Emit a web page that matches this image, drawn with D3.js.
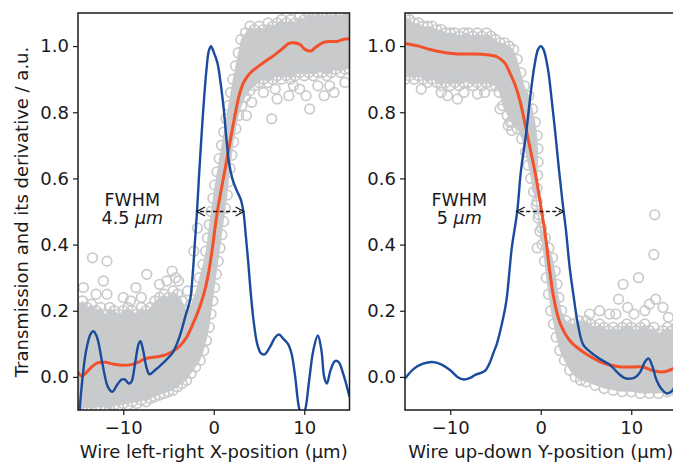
<!DOCTYPE html>
<html><head><meta charset="utf-8">
<script src="https://cdn.jsdelivr.net/npm/d3@7"></script>
<style>
body{margin:0;background:#fff}
svg{display:block}
text{font-family:"DejaVu Sans",sans-serif;fill:#1a1a1a}
</style>
</head><body>
<svg id="chart" width="673" height="462"></svg>
<script>
// ---------- data ----------
const xTicks = [-10, 0, 10];
const yTicks = [0.0, 0.2, 0.4, 0.6, 0.8, 1.0];
const xDomain = [-15, 15];
const yDomain = [-0.1, 1.1];
const xTitles = ["Wire left-right X-position (μm)", "Wire up-down Y-position (μm)"];
const yTitle = "Transmission and its derivative / a.u.";
const fwhmNumbers = ["4.5", "5"];
const fwhmArrowsX = [[-1.85, 3.3], [-2.65, 2.5]];
const fwhmArrowY = 0.5;
const fwhmTextX = [-9.0, -9.0];
const fwhmTextY = [0.517, 0.461];

// left panel: dense scatter band (outer circle centres) and outliers
const leftBandUpper = [[-15,0.21],[-14.5,0.23],[-14,0.21],[-13.5,0.22],[-13,0.2],[-12.5,0.21],[-12,0.19],[-11.5,0.21],[-11,0.2],[-10.5,0.19],[-10,0.2],[-9.5,0.21],[-9,0.2],[-8.5,0.19],[-8,0.21],[-7.5,0.2],[-7,0.21],[-6.5,0.23],[-6,0.24],[-5.5,0.25],[-5,0.24],[-4.5,0.26],[-4,0.25],[-3.5,0.23],[-3,0.2],[-2.5,0.22],[-2,0.26],[-1.6,0.3],[-1.2,0.34],[-0.9,0.38],[-0.7,0.42],[-0.5,0.46],[-0.3,0.5],[-0.1,0.54],[0.1,0.58],[0.35,0.62],[0.6,0.66],[0.85,0.7],[1.1,0.74],[1.35,0.78],[1.6,0.82],[1.85,0.86],[2.1,0.9],[2.4,0.94],[2.7,0.98],[3.0,1.02],[3.5,1.04],[4,1.06],[4.5,1.05],[5,1.06],[5.5,1.05],[6,1.07],[6.5,1.06],[7,1.07],[7.5,1.08],[8,1.07],[8.5,1.08],[9,1.07],[9.5,1.09],[10,1.08],[10.5,1.1],[11,1.09],[11.5,1.1],[12,1.09],[12.5,1.1],[13,1.09],[13.5,1.1],[14,1.09],[14.5,1.1],[15,1.1]];
const leftBandLower = [[-15,-0.095],[-14.5,-0.1],[-14,-0.09],[-13.5,-0.1],[-13,-0.09],[-12.5,-0.095],[-12,-0.09],[-11.5,-0.1],[-11,-0.085],[-10.5,-0.09],[-10,-0.08],[-9.5,-0.085],[-9,-0.075],[-8.5,-0.08],[-8,-0.07],[-7.5,-0.075],[-7,-0.065],[-6.5,-0.06],[-6,-0.055],[-5.5,-0.05],[-5,-0.045],[-4.5,-0.04],[-4,-0.03],[-3.5,-0.02],[-3,-0.01],[-2.5,0.01],[-2,0.03],[-1.5,0.05],[-1.1,0.08],[-0.8,0.11],[-0.5,0.15],[-0.3,0.19],[-0.1,0.23],[0.1,0.27],[0.3,0.31],[0.5,0.35],[0.7,0.39],[0.9,0.43],[1.1,0.47],[1.3,0.51],[1.5,0.55],[1.65,0.59],[1.8,0.63],[2.0,0.67],[2.2,0.71],[2.45,0.75],[2.75,0.79],[3.1,0.82],[3.5,0.845],[4.0,0.865],[4.5,0.88],[5,0.89],[5.5,0.9],[6,0.89],[6.5,0.9],[7,0.91],[7.5,0.9],[8,0.91],[8.5,0.9],[9,0.91],[9.5,0.92],[10,0.91],[10.5,0.92],[11,0.91],[11.5,0.92],[12,0.92],[12.5,0.91],[13,0.92],[13.5,0.93],[14,0.92],[14.5,0.93],[15,0.93]];
const leftOutliers = [[-13.4,0.36],[-11.8,0.35],[-12.2,0.29],[-14.4,0.27],[-11.8,0.25],[-13,0.25],[-10,0.24],[-9.2,0.23],[-8.6,0.27],[-8,0.24],[-7.4,0.31],[-6,0.28],[-5.2,0.29],[-4.6,0.32],[-4.2,0.3],[-3.9,0.29],[-2.9,0.26],[-1.8,0.45],[-2.2,0.38],[6.4,0.78],[8.3,0.85],[10.6,0.81],[13.3,0.86],[7,0.84],[4.2,0.83],[5.5,0.86],[9.5,0.87],[11.5,0.88],[12.2,0.85],[14.5,0.89],[10.2,0.85],[6.8,0.87],[3.6,0.79],[8.8,0.88],[12.8,0.88]];

// left panel: smoothed transmission (red) and its derivative (blue)
const leftSmooth = [[-15,0.015],[-14.6,0.003],[-14.2,0.01],[-13.5,0.03],[-12.8,0.043],[-12,0.044],[-11,0.038],[-10,0.035],[-9,0.038],[-8.3,0.045],[-7.5,0.056],[-6.5,0.06],[-5.5,0.065],[-4.6,0.076],[-3.8,0.092],[-3.0,0.12],[-2.3,0.16],[-1.7,0.2],[-1.1,0.25],[-0.6,0.31],[-0.2,0.38],[0.4,0.5],[1.3,0.635],[2.2,0.77],[2.8,0.85],[3.3,0.89],[4.0,0.918],[5.0,0.94],[5.9,0.958],[6.8,0.975],[7.7,0.995],[8.3,1.008],[8.8,1.01],[9.5,1.005],[10.1,0.99],[10.7,0.985],[11.3,0.997],[12.0,1.01],[12.8,1.014],[13.6,1.014],[14.3,1.02],[15,1.022]];
const leftDeriv = [[-15.0,-0.17],[-14.6,-0.03],[-14.1,0.08],[-13.6,0.13],[-13.3,0.138],[-12.9,0.12],[-12.3,0.04],[-11.7,-0.03],[-11.2,-0.045],[-10.7,-0.025],[-10.2,-0.008],[-9.8,-0.008],[-9.4,-0.02],[-9.1,-0.015],[-8.7,0.04],[-8.3,0.1],[-8.1,0.108],[-7.8,0.08],[-7.4,0.025],[-7.1,0.008],[-6.5,0.02],[-5.5,0.045],[-4.5,0.075],[-3.8,0.12],[-3.1,0.187],[-2.6,0.235],[-2.3,0.32],[-2.05,0.42],[-1.85,0.5],[-1.6,0.62],[-1.35,0.73],[-1.1,0.83],[-0.8,0.93],[-0.55,0.985],[-0.3,1.0],[-0.05,0.985],[0.4,0.95],[0.75,0.89],[1.1,0.81],[1.4,0.72],[1.7,0.645],[2.1,0.595],[2.6,0.56],[3.0,0.535],[3.3,0.495],[3.5,0.44],[3.8,0.35],[4.1,0.25],[4.4,0.17],[4.8,0.1],[5.2,0.072],[5.6,0.068],[6.2,0.09],[6.8,0.12],[7.2,0.128],[7.7,0.115],[8.2,0.1],[8.6,0.07],[9.0,0.0],[9.4,-0.09],[9.75,-0.12],[10.1,-0.1],[10.5,-0.02],[11.0,0.08],[11.5,0.125],[11.9,0.08],[12.2,0.0],[12.5,-0.02],[12.9,0.02],[13.4,0.048],[13.8,0.045],[14.3,0.01],[15,-0.06]];

// right panel
const rightBandUpper = [[-15,1.09],[-14.5,1.08],[-14,1.07],[-13.5,1.07],[-13,1.06],[-12.5,1.06],[-12,1.06],[-11.5,1.05],[-11,1.05],[-10.5,1.04],[-10,1.04],[-9.5,1.04],[-9,1.03],[-8.5,1.04],[-8,1.04],[-7.5,1.03],[-7,1.04],[-6.5,1.03],[-6,1.04],[-5.5,1.03],[-5,1.02],[-4.5,1.01],[-4,1.01],[-3.5,1.0],[-3,0.99],[-2.6,0.96],[-2.2,0.92],[-1.8,0.88],[-1.3,0.85],[-0.9,0.81],[-0.6,0.77],[-0.4,0.73],[-0.3,0.69],[-0.3,0.65],[-0.35,0.61],[-0.4,0.57],[-0.4,0.53],[-0.2,0.49],[0.1,0.45],[0.5,0.42],[0.9,0.39],[1.3,0.36],[1.6,0.32],[1.8,0.28],[2.0,0.24],[2.3,0.2],[2.8,0.17],[3.5,0.16],[4.2,0.17],[5,0.17],[5.5,0.16],[6,0.15],[6.5,0.16],[7,0.15],[7.5,0.14],[8,0.15],[8.5,0.14],[9,0.15],[9.5,0.16],[10,0.15],[10.5,0.14],[11,0.15],[11.5,0.16],[12,0.14],[12.5,0.15],[13,0.13],[13.5,0.14],[14,0.15],[14.5,0.14],[15,0.15]];
const rightBandLower = [[-15,0.9],[-14.5,0.91],[-14,0.9],[-13.5,0.91],[-13,0.9],[-12.5,0.89],[-12,0.9],[-11.5,0.89],[-11,0.88],[-10.5,0.89],[-10,0.88],[-9.5,0.89],[-9,0.88],[-8.5,0.89],[-8,0.89],[-7.5,0.88],[-7,0.89],[-6.5,0.88],[-6,0.89],[-5.5,0.88],[-5,0.88],[-4.6,0.86],[-4.2,0.82],[-3.7,0.79],[-3.2,0.77],[-2.6,0.75],[-2.1,0.72],[-1.7,0.68],[-1.4,0.64],[-1.1,0.6],[-0.8,0.56],[-0.5,0.52],[-0.3,0.48],[-0.1,0.44],[0.15,0.4],[0.4,0.35],[0.6,0.3],[0.85,0.25],[1.1,0.2],[1.4,0.16],[1.7,0.12],[2.1,0.08],[2.6,0.05],[3.2,0.02],[3.8,0.0],[4.4,-0.01],[5,-0.015],[6,-0.025],[7,-0.035],[8,-0.04],[9,-0.045],[10,-0.045],[11,-0.05],[12,-0.05],[13,-0.05],[14,-0.045],[15,-0.045]];
const rightOutliers = [[12.6,0.49],[12.5,0.37],[10.8,0.3],[9.1,0.28],[8.6,0.235],[9.6,0.21],[7.6,0.19],[12.7,0.235],[14.1,0.18],[5.4,0.19],[6.5,0.2],[11.5,0.2],[13.5,0.21],[10.3,0.19],[8.3,0.19],[12,0.22],[-10.3,0.85],[-9.2,0.84],[-8.5,0.86],[-11,0.86],[-7,0.855],[-6.2,0.86],[-13.2,0.87],[-3.4,0.77],[-3.2,0.745],[-3.6,0.76],[-0.4,0.39],[-4.5,0.81]];
const rightSmooth = [[-15,1.008],[-13.5,1.0],[-12,0.988],[-10.5,0.98],[-9.2,0.976],[-7.5,0.976],[-6,0.974],[-4.8,0.967],[-4.0,0.95],[-3.4,0.918],[-2.8,0.88],[-2.3,0.835],[-1.4,0.72],[-0.5,0.6],[0.1,0.5],[0.55,0.42],[0.9,0.34],[1.4,0.245],[2.1,0.165],[3.2,0.11],[4.2,0.085],[5.1,0.068],[6.9,0.042],[8.7,0.031],[10.2,0.03],[11.3,0.03],[12.3,0.02],[13.2,0.015],[14.0,0.018],[15,0.03]];
const rightDeriv = [[-15,-0.005],[-14,0.025],[-13,0.04],[-12,0.045],[-11,0.038],[-10,0.02],[-9.2,0.0],[-8.5,-0.008],[-7.8,-0.003],[-7.2,0.007],[-6.6,0.012],[-6.1,0.02],[-5.6,0.045],[-5.2,0.075],[-4.85,0.1],[-4.3,0.16],[-3.8,0.23],[-3.2,0.39],[-2.6,0.5],[-2.2,0.62],[-1.6,0.74],[-1.1,0.86],[-0.7,0.94],[-0.3,0.99],[0,1.0],[0.3,0.99],[0.8,0.93],[1.2,0.84],[1.6,0.74],[2.0,0.63],[2.4,0.53],[2.8,0.44],[3.2,0.33],[3.6,0.25],[4.1,0.16],[4.7,0.097],[5.5,0.075],[6.5,0.055],[7.7,0.035],[8.6,0.01],[9.3,-0.004],[9.9,-0.005],[10.5,0.0],[11.0,0.015],[11.5,0.045],[11.9,0.056],[12.3,0.035],[12.8,-0.01],[13.3,-0.035],[13.9,-0.05],[14.4,-0.045],[15,-0.02]];

// ---------- drawing ----------
const svg = d3.select("#chart");
const grey = "#c8cacc", red = "#f2512b", blue = "#1a4b9c", ink = "#1a1a1a";
const plotTop = 13, plotBottom = 410;
const panels = [
  {x0: 78, x1: 349.5, band: [leftBandUpper, leftBandLower], out: leftOutliers, smooth: leftSmooth, deriv: leftDeriv},
  {x0: 405, x1: 676.5, band: [rightBandUpper, rightBandLower], out: rightOutliers, smooth: rightSmooth, deriv: rightDeriv}
];

panels.forEach((p, i) => {
  const x = d3.scaleLinear().domain(xDomain).range([p.x0, p.x1]);
  const y = d3.scaleLinear().domain(yDomain).range([plotBottom, plotTop]);
  const g = svg.append("g");
  const clipId = "clip" + i;
  svg.append("clipPath").attr("id", clipId).append("rect")
    .attr("x", p.x0).attr("y", plotTop).attr("width", p.x1 - p.x0).attr("height", plotBottom - plotTop);
  const plot = g.append("g").attr("clip-path", `url(#${clipId})`);

  const poly = p.band[0].concat(p.band[1].slice().reverse());
  plot.append("path")
    .attr("d", d3.line().x(d => x(d[0])).y(d => y(d[1])).curve(d3.curveLinearClosed)(poly))
    .attr("fill", grey).attr("stroke", "none");

  const pts = p.band[0].concat(p.band[1], p.out);
  plot.selectAll("circle").data(pts).join("circle")
    .attr("cx", d => x(d[0])).attr("cy", d => y(d[1])).attr("r", 4.8)
    .attr("fill", "none").attr("stroke", grey).attr("stroke-width", 1.7);

  const line = d3.line().x(d => x(d[0])).y(d => y(d[1])).curve(d3.curveCatmullRom.alpha(0.5));
  plot.append("path").attr("d", line(p.smooth)).attr("fill", "none")
    .attr("stroke", red).attr("stroke-width", 3).attr("stroke-linejoin", "round");
  plot.append("path").attr("d", line(p.deriv)).attr("fill", "none")
    .attr("stroke", blue).attr("stroke-width", 2.4).attr("stroke-linejoin", "round");

  // FWHM arrow
  const ax0 = x(fwhmArrowsX[i][0]), ax1 = x(fwhmArrowsX[i][1]), ay = y(fwhmArrowY);
  g.append("line").attr("x1", ax0 + 3).attr("x2", ax1 - 3).attr("y1", ay).attr("y2", ay)
    .attr("stroke", ink).attr("stroke-width", 1.3).attr("stroke-dasharray", "4,2.5");
  g.append("path").attr("d", `M${ax0 + 8},${ay - 4.5}L${ax0},${ay}L${ax0 + 8},${ay + 4.5}`)
    .attr("fill", "none").attr("stroke", ink).attr("stroke-width", 1.4);
  g.append("path").attr("d", `M${ax1 - 8},${ay - 4.5}L${ax1},${ay}L${ax1 - 8},${ay + 4.5}`)
    .attr("fill", "none").attr("stroke", ink).attr("stroke-width", 1.4);
  g.append("text").attr("x", x(fwhmTextX[i])).attr("y", y(fwhmTextY[0]))
    .attr("text-anchor", "middle").style("font-size", "17.5px").text("FWHM");
  const t2 = g.append("text").attr("x", x(fwhmTextX[i])).attr("y", y(fwhmTextY[1]))
    .attr("text-anchor", "middle").style("font-size", "17.5px");
  t2.append("tspan").text(fwhmNumbers[i] + " ");
  t2.append("tspan").style("font-style", "italic").text("μm");

  // axes
  const xAxis = d3.axisBottom(x).tickValues(xTicks).tickSize(5).tickPadding(6).tickFormat(d3.format("d"));
  const yAxis = d3.axisLeft(y).tickValues(yTicks).tickSize(5).tickPadding(4).tickFormat(d3.format(".1f"));
  const gx = g.append("g").attr("transform", `translate(0,${plotBottom})`).call(xAxis);
  const gy = g.append("g").attr("transform", `translate(${p.x0},0)`).call(yAxis);
  [gx, gy].forEach(a => {
    a.select(".domain").remove();
    a.selectAll(".tick line").attr("stroke", ink).attr("stroke-width", 1.2);
    a.selectAll(".tick text").attr("fill", ink).style("font-size", "18px").style("font-family", "DejaVu Sans");
  });
  g.append("rect").attr("x", p.x0).attr("y", plotTop).attr("width", p.x1 - p.x0).attr("height", plotBottom - plotTop)
    .attr("fill", "none").attr("stroke", ink).attr("stroke-width", 1.5);

  g.append("text").attr("x", (p.x0 + p.x1) / 2).attr("y", 457.5)
    .attr("text-anchor", "middle").style("font-size", "18px").text(xTitles[i]);
});

svg.append("text").attr("transform", "translate(27.5,212) rotate(-90)")
  .attr("text-anchor", "middle").style("font-size", "18px").text(yTitle);
</script>
</body></html>
